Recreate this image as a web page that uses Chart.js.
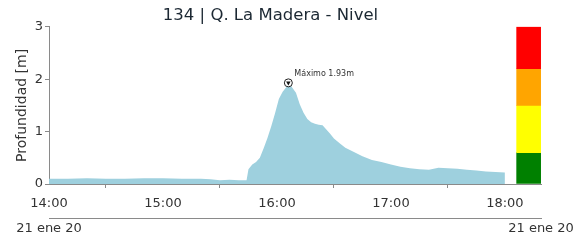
<!DOCTYPE html>
<html>
<head>
<meta charset="utf-8">
<script src="https://cdn.jsdelivr.net/npm/chart.js@4/dist/chart.umd.min.js"></script>
<style>
  html, body { margin: 0; padding: 0; background: #fff; }
  #wrap { width: 587px; height: 240px; }
</style>
</head>
<body>
<div id="wrap"><canvas id="nivelChart" width="587" height="240"></canvas></div>
<script>
// Nivel medido (hora local, metros)
const times = [
  "14:00","14:10","14:20","14:30","14:40","14:50","15:00","15:10","15:20","15:25",
  "15:30","15:35","15:40","15:44","15:45","15:47","15:49","15:51","15:53","15:55",
  "15:57","15:59","16:01","16:03","16:05","16:06","16:07","16:08","16:10","16:12",
  "16:14","16:16","16:18","16:20","16:22","16:24","16:26","16:28","16:30","16:33",
  "16:36","16:40","16:45","16:50","16:55","17:00","17:05","17:10","17:15","17:20",
  "17:25","17:30","17:35","17:40","17:45","17:50","17:55","18:00"
];
const levels = [
  0.10, 0.10, 0.11, 0.10, 0.10, 0.11, 0.11, 0.10, 0.10, 0.09,
  0.07, 0.08, 0.07, 0.07, 0.28, 0.37, 0.42, 0.50, 0.68, 0.88,
  1.10, 1.35, 1.62, 1.76, 1.85, 1.93, 1.89, 1.84, 1.74, 1.52,
  1.36, 1.24, 1.18, 1.15, 1.13, 1.12, 1.04, 0.96, 0.87, 0.78,
  0.69, 0.62, 0.53, 0.46, 0.42, 0.37, 0.33, 0.30, 0.28, 0.27,
  0.31, 0.30, 0.29, 0.27, 0.26, 0.24, 0.23, 0.22
];

// Máximo
const peakTime = "16:06";
const peakValue = 1.93;

// Umbrales de alerta [desde, hasta] en metros
const alertRanges = [[0, 0.6], [0.6, 1.5], [1.5, 2.2], [2.2, 3]];
const alertColors = ["#008000", "#ffff00", "#ffa500", "#ff0000"];
const alertTime = "18:12:30";

const hourTicks = ["14:00", "15:00", "16:00", "17:00", "18:00"];
const dateLabel = "21 ene 20";
const axisEnd = "18:19";

function toMin(t) {
  const p = t.split(":").map(Number);
  return (p[0] - 14) * 60 + p[1] + (p[2] || 0) / 60;
}
function fmt(m) {
  const h = 14 + Math.floor(m / 60), mm = Math.round(m % 60);
  return h + ":" + String(mm).padStart(2, "0");
}

const FONT = "'DejaVu Sans', sans-serif";
const AXIS = "#8a8a8a";
const TXT = "#333333";

const peakLabel = {
  id: "peakLabel",
  afterDatasetsDraw(chart) {
    const x = chart.scales.x.getPixelForValue(toMin(peakTime));
    const y = chart.scales.y.getPixelForValue(peakValue);
    const ctx = chart.ctx;
    ctx.save();
    ctx.font = "8px " + FONT;
    ctx.fillStyle = TXT;
    ctx.textBaseline = "middle";
    ctx.fillText("Máximo " + peakValue.toFixed(2) + "m", x + 6, y - 9);
    ctx.restore();
  }
};

new Chart(document.getElementById("nivelChart"), {
  data: {
    datasets: [
      {
        type: "line",
        data: times.map((t, i) => ({ x: toMin(t), y: levels[i] })),
        backgroundColor: "rgb(158,208,222)",
        borderWidth: 0,
        pointRadius: 0,
        fill: "origin",
        tension: 0,
        order: 3
      },
      {
        type: "bar",
        data: alertRanges.map(r => ({ x: toMin(alertTime), y: r })),
        backgroundColor: alertColors,
        barThickness: 24,
        order: 4
      },
      {
        type: "scatter",
        data: [{ x: toMin(peakTime), y: peakValue }],
        pointStyle: "circle",
        pointRadius: 4,
        backgroundColor: "#ffffff",
        borderColor: "#222222",
        borderWidth: 1,
        order: 2
      },
      {
        type: "scatter",
        data: [{ x: toMin(peakTime), y: peakValue }],
        pointStyle: "triangle",
        rotation: 180,
        pointRadius: 2.6,
        backgroundColor: "#111111",
        borderWidth: 0,
        order: 1
      }
    ]
  },
  options: {
    responsive: false,
    animation: false,
    layout: { padding: { left: 0, right: 46, top: 0, bottom: 2 } },
    plugins: {
      legend: { display: false },
      tooltip: { enabled: false },
      title: {
        display: true,
        text: "134 | Q. La Madera - Nivel",
        color: "#1c2833",
        font: { family: FONT, size: 16.5, weight: "normal" },
        padding: { top: 6, bottom: 1 }
      }
    },
    scales: {
      x: {
        type: "linear",
        offset: false,
        min: 0,
        max: toMin(axisEnd),
        afterBuildTicks: s => { s.ticks = hourTicks.map(t => ({ value: toMin(t) })); },
        afterFit: s => { s.height = 34; },
        grid: { display: true, drawOnChartArea: false, tickLength: 4, color: AXIS },
        border: { color: AXIS },
        ticks: { color: TXT, font: { family: FONT, size: 13 }, padding: 8, maxRotation: 0, callback: v => fmt(v) }
      },
      x2: {
        type: "linear",
        position: "bottom",
        offset: false,
        min: 0,
        max: toMin(axisEnd),
        afterBuildTicks: s => { s.ticks = [{ value: 0 }, { value: toMin(axisEnd) }]; },
        afterFit: s => { s.height = 20; },
        grid: { display: true, drawOnChartArea: false, drawTicks: false, tickLength: 0, color: AXIS },
        border: { display: true, color: AXIS, width: 1 },
        ticks: { color: TXT, font: { family: FONT, size: 13 }, padding: 3, maxRotation: 0, callback: () => dateLabel }
      },
      y: {
        min: 0,
        max: 3,
        afterFit: s => { s.width = 49; },
        grid: { display: true, drawOnChartArea: false, tickLength: 4, color: AXIS },
        border: { color: AXIS },
        ticks: { stepSize: 1, color: TXT, font: { family: FONT, size: 13 }, padding: 2 },
        title: {
          display: true,
          text: "Profundidad [m]",
          color: TXT,
          font: { family: FONT, size: 14 },
          padding: { top: 14, bottom: 0 }
        }
      }
    }
  },
  plugins: [peakLabel]
});
</script>
</body>
</html>
